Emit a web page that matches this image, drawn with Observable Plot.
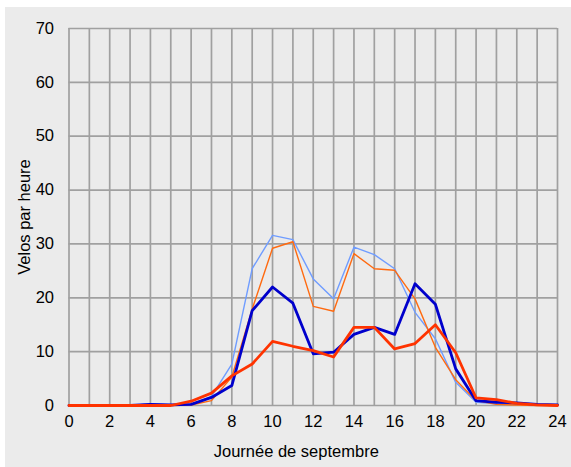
<!DOCTYPE html>
<html>
<head>
<meta charset="utf-8">
<script src="https://cdn.jsdelivr.net/npm/d3@7"></script>
<script src="https://cdn.jsdelivr.net/npm/@observablehq/plot@0.6"></script>
<style>
  html, body { margin: 0; padding: 0; background: #ffffff; }
  #chart { position: absolute; left: 5px; top: 7px; width: 566px; height: 460px; background: #ebebeb; }
  #chart svg { display: block; background: transparent; }
</style>
</head>
<body>
<div id="chart"></div>
<script>
const hours = d3.range(0, 25);
const xTicks = [0, 2, 4, 6, 8, 10, 12, 14, 16, 18, 20, 22, 24];
const yTicks = [0, 10, 20, 30, 40, 50, 60, 70];

const serieA = [0, 0, 0, 0, 0.3, 0.1, 0.1, 1.7, 7.7, 25.4, 31.6, 30.8, 23.5, 19.8, 29.4, 28.0, 25.4, 17.3, 12.4, 4.3, 0.6, 0.3, 0.2, 0.2, 0.1];
const serieB = [0, 0, 0, 0, 0, 0, 0.1, 0.9, 5.3, 17.9, 29.2, 30.4, 18.4, 17.5, 28.2, 25.4, 25.1, 19.8, 10.8, 4.8, 0.9, 0.2, 0.1, 0, 0];
const serieC = [0, 0, 0, 0, 0.2, 0.1, 0.2, 1.5, 3.7, 17.6, 22.0, 19.0, 9.6, 9.9, 13.2, 14.5, 13.2, 22.6, 18.8, 6.8, 0.9, 0.6, 0.5, 0.2, 0.1];
const serieD = [0, 0, 0, 0, 0, 0, 0.8, 2.3, 5.5, 7.7, 11.9, 11.0, 10.2, 9.0, 14.5, 14.5, 10.5, 11.5, 15.0, 9.8, 1.4, 1.1, 0.4, 0.1, 0];

const toRows = (vals) => hours.map((h, i) => ({hour: h, value: vals[i]}));

const chart = Plot.plot({
  width: 566,
  height: 460,
  marginLeft: 63.5,
  marginRight: 14,
  marginTop: 21,
  marginBottom: 62,
  style: {fontFamily: "'Liberation Sans', Arial, sans-serif", fontSize: "16.5px", color: "#000", background: "transparent"},
  x: {domain: [0, 24], ticks: xTicks, tickSize: 0, tickPadding: 10, label: null, tickFormat: d => String(d)},
  y: {domain: [0, 70], ticks: yTicks, tickSize: 0, tickPadding: 15, label: null},
  marks: [
    Plot.ruleX(hours, {stroke: "#a0a0a0", strokeWidth: 1.7}),
    Plot.ruleY(yTicks, {stroke: "#a0a0a0", strokeWidth: 1.7}),
    Plot.lineY(toRows(serieA), {x: "hour", y: "value", stroke: "#6f9cff", strokeWidth: 1.4}),
    Plot.lineY(toRows(serieB), {x: "hour", y: "value", stroke: "#ff6a10", strokeWidth: 1.4}),
    Plot.lineY(toRows(serieC), {x: "hour", y: "value", stroke: "#0000cc", strokeWidth: 2.8}),
    Plot.lineY(toRows(serieD), {x: "hour", y: "value", stroke: "#ff3300", strokeWidth: 2.8}),
    Plot.text(["Velos par heure"], {frameAnchor: "left", rotate: -90, dx: -44, textAnchor: "middle", lineAnchor: "middle", fontSize: 16.5, fill: "#000"}),
    Plot.text(["Journée de septembre"], {frameAnchor: "bottom", dy: 46, dx: -17, textAnchor: "middle", lineAnchor: "middle", fontSize: 16.5, fill: "#000"})
  ]
});
document.getElementById("chart").appendChild(chart);
</script>
</body>
</html>
